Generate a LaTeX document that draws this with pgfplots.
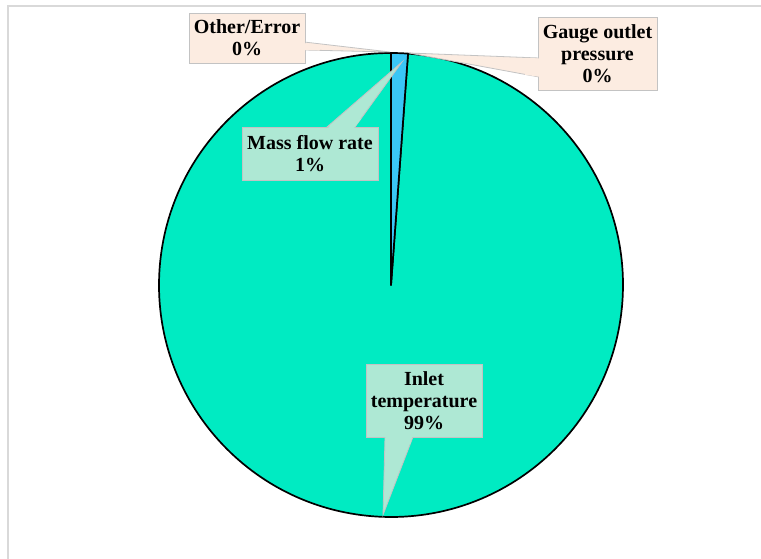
\documentclass[border=0pt]{standalone}
\usepackage{pgfplots}
\pgfplotsset{compat=1.18}
\usepackage{pgfplotstable}
\usepackage{fontspec}
\setmainfont{Liberation Serif}
\definecolor{inletc}{RGB}{0,235,194}
\definecolor{massc}{RGB}{58,198,246}
\definecolor{peach}{RGB}{252,236,225}
\definecolor{mint}{RGB}{174,232,212}
\definecolor{framec}{RGB}{217,217,217}
\definecolor{boxline}{RGB}{195,195,195}
\pgfplotstableread{
key value
massflow 1.17
gauge 0
other 0
inlet 98.83
}\piedata
\begin{document}%
\begin{tikzpicture}[
  lbl/.style={font=\fontsize{20}{22}\selectfont\bfseries, align=center, inner sep=0pt, draw=boxline, line width=0.8pt}]
\pgfplotstablegetelem{0}{value}\of\piedata\edef\vMass{\pgfplotsretval}
\pgfplotstablegetelem{1}{value}\of\piedata\edef\vGauge{\pgfplotsretval}
\pgfplotstablegetelem{2}{value}\of\piedata\edef\vOther{\pgfplotsretval}
\pgfplotstablegetelem{3}{value}\of\piedata\edef\vInlet{\pgfplotsretval}
\pgfmathsetmacro\aMass{90-3.6*\vMass}
\pgfmathsetmacro\aGauge{\aMass-3.6*\vGauge}
\pgfmathsetmacro\aOther{\aGauge-3.6*\vOther}
\pgfmathsetmacro\aInlet{\aOther-3.6*\vInlet}
\begin{axis}[x=1pt, y=1pt, xmin=0, xmax=761, ymin=0, ymax=559,
  hide axis, scale only axis, clip=false]
\coordinate (BL) at (axis cs:0,0);
\coordinate (TR) at (axis cs:761,559);
% frame
\draw[framec, line width=1.5pt] (axis cs:8,0) -- (axis cs:8,553) -- (axis cs:761,553);
% pie slices
\filldraw[fill=inletc, draw=black, line width=1.7pt, line join=round]
  (axis cs:391,274) -- ++(\aOther:232pt) arc[start angle=\aOther, end angle=\aInlet, radius=232pt] -- cycle;
\filldraw[fill=massc, draw=black, line width=1.7pt, line join=round]
  (axis cs:391,274) -- ++(90:232pt) arc[start angle=90, end angle=\aMass, radius=232pt] -- cycle;
% callout: Other/Error
\filldraw[fill=peach, draw=boxline, line width=0.8pt] (axis cs:304,517) -- (axis cs:390,507) -- (axis cs:304,509) -- cycle;
\node[lbl, fill=peach, minimum width=116pt, minimum height=50pt] at (axis cs:247,521) {Other/Error\\0\%};
\fill[peach] (axis cs:303,516) -- (axis cs:320,514.2) -- (axis cs:320,508.7) -- (axis cs:303,509) -- cycle;
% callout: Gauge outlet pressure
\filldraw[fill=peach, draw=boxline, line width=0.8pt] (axis cs:539,501) -- (axis cs:409,506) -- (axis cs:539,482) -- cycle;
\node[lbl, fill=peach, minimum width=119pt, minimum height=73pt] at (axis cs:597.5,505.5) {Gauge outlet\\pressure\\0\%};
\fill[peach] (axis cs:540,500.5) -- (axis cs:525,501.2) -- (axis cs:525,484.2) -- (axis cs:540,482.2) -- cycle;
% callout: Mass flow rate
\filldraw[fill=mint, draw=boxline, line width=0.8pt] (axis cs:327,432) -- (axis cs:402,497) -- (axis cs:355,432) -- cycle;
\node[lbl, fill=mint, minimum width=136pt, minimum height=53pt] at (axis cs:310,405.5) {Mass flow rate\\1\%};
\fill[mint] (axis cs:328,431) -- (axis cs:338,440) -- (axis cs:361,440) -- (axis cs:354,431) -- cycle;
% callout: Inlet temperature
\filldraw[fill=mint, draw=boxline, line width=0.8pt] (axis cs:385,122) -- (axis cs:383,44) -- (axis cs:413,122) -- cycle;
\node[lbl, fill=mint, minimum width=116pt, minimum height=73pt] at (axis cs:424,158.5) {Inlet\\temperature\\99\%};
\fill[mint] (axis cs:385.5,123) -- (axis cs:385.3,115) -- (axis cs:410.3,115) -- (axis cs:412.5,123) -- cycle;
\end{axis}
\pgfresetboundingbox
\path[use as bounding box] (BL) rectangle (TR);
\end{tikzpicture}%
\end{document}
